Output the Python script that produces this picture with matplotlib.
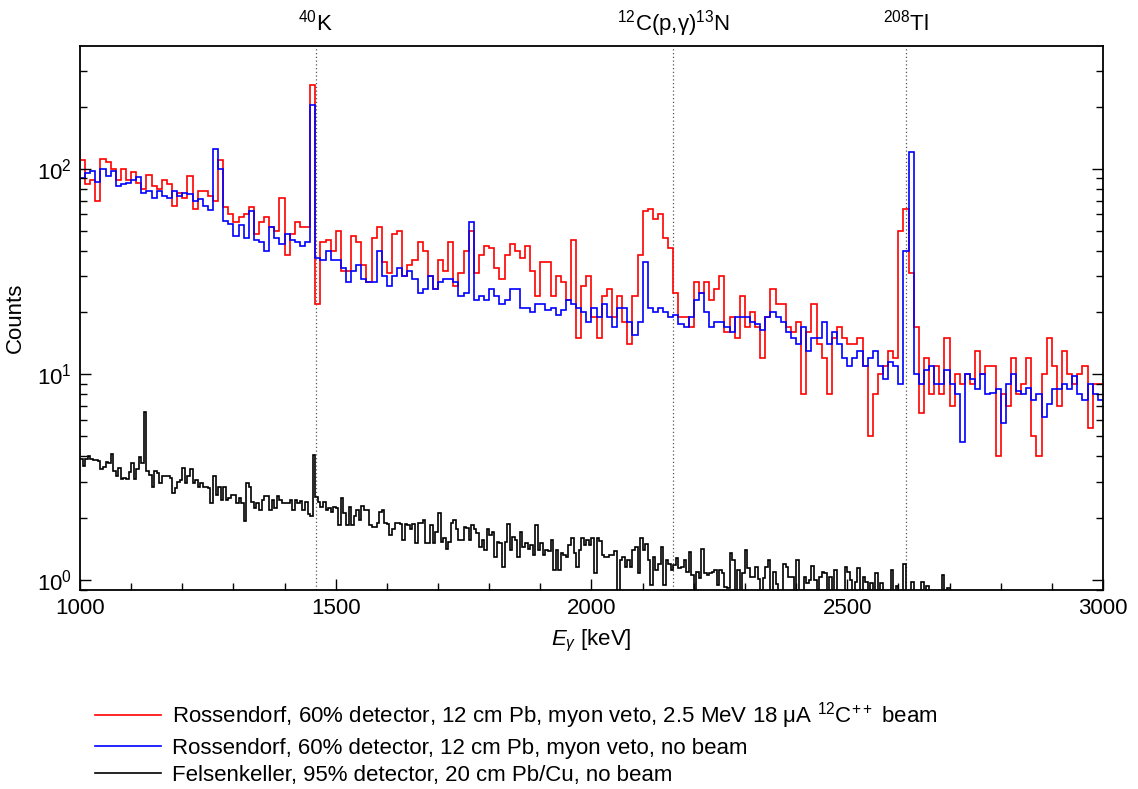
import numpy as np
import matplotlib
matplotlib.use("Agg")
import matplotlib.pyplot as plt
from matplotlib.lines import Line2D
from matplotlib.ticker import MultipleLocator, LogLocator, NullFormatter

plt.rcParams['font.family'] = ['Liberation Sans', 'DejaVu Sans']
plt.rcParams['mathtext.fontset'] = 'custom'
plt.rcParams['mathtext.rm'] = 'Liberation Sans'
plt.rcParams['mathtext.it'] = 'Liberation Sans:italic'
plt.rcParams['mathtext.bf'] = 'Liberation Sans:bold'

FS = 16

# Rossendorf spectra, 10 keV bins from 1000 to 3000 keV
rossendorf_beam = (
    [110, 84, 88, 70, 112, 108, 100, 88, 100, 88] +
    [96, 85, 80, 93, 82, 80, 88, 84, 66, 76] +
    [72, 92, 64, 78, 78, 74, 70, 110, 65, 60] +
    [55, 58, 60, 65, 48, 55, 58, 52, 50, 72] +
    [38, 48, 55, 52, 52, 255, 22, 44, 45, 40] +
    [50, 32, 32, 47, 44, 34, 28, 46, 52, 35] +
    [31, 48, 50, 30, 34, 36, 44, 40, 30, 26] +
    [36, 32, 44, 27, 31, 40, 50, 31, 38, 42] +
    [41, 33, 29, 38, 43, 40, 37, 42, 32, 24] +
    [35, 35, 24, 30, 28, 23, 45, 15, 27, 30] +
    [19, 15, 24, 26, 19, 24, 18, 14, 24, 38] +
    [62, 64, 57, 60, 46, 41, 25, 19, 19, 17] +
    [28, 25, 28, 23, 26, 30, 16, 19, 15, 24] +
    [17, 20, 17, 12, 19, 26, 22, 22, 17, 16] +
    [18, 8, 16, 22, 14, 12, 8, 15, 17, 15] +
    [14, 14, 15, 11, 5, 8, 10, 11, 13, 12] +
    [50, 64, 31, 17, 6.5, 12, 8, 11, 8, 15] +
    [7, 10, 9, 10, 9, 13, 10, 11, 11, 4] +
    [8, 7, 12, 8, 9, 12, 5, 4, 10, 15] +
    [11, 7, 13, 10, 9, 10, 11, 5.5, 9, 9]
)

rossendorf_nobeam = (
    [90, 95, 98, 86, 100, 92, 98, 82, 84, 85] +
    [88, 91, 76, 78, 72, 78, 74, 72, 78, 74] +
    [76, 75, 70, 71, 66, 63, 125, 100, 56, 54] +
    [47, 53, 46, 62, 45, 44, 40, 52, 46, 43] +
    [48, 45, 44, 42, 44, 205, 37, 36, 40, 36] +
    [36, 33, 28, 32, 34, 29, 28, 28, 40, 30] +
    [27, 30, 33, 30, 32, 29, 25, 26, 30, 26] +
    [28, 29, 29, 28, 24, 25, 55, 23, 24, 23] +
    [26, 24, 22, 23, 26, 26, 21, 21, 20, 22] +
    [22, 20.5, 21, 19.5, 20.5, 23, 22, 21, 20, 18] +
    [21, 19, 22, 19, 17, 21, 21, 18, 15.5, 18] +
    [35, 21, 20, 21, 20, 19, 19.5, 17.5, 17, 19] +
    [23, 25, 20, 17, 18, 18, 17, 16, 19, 19] +
    [19, 18, 17.5, 16.5, 19, 20, 19, 18, 16, 15] +
    [14, 17, 13, 15, 15, 18, 14, 16, 14, 12] +
    [11, 12, 13, 11, 12, 13, 11, 9.5, 11.5, 11] +
    [9, 40, 120, 10, 9, 10.5, 11, 9, 9, 10.5] +
    [9, 8, 4.7, 10, 9.5, 8.5, 10, 8, 8.1, 8.5] +
    [5.8, 9, 10, 8.3, 8, 8.6, 7.5, 8, 6.2, 7.2] +
    [8.5, 8.5, 9, 8.5, 9.8, 8, 7.5, 9, 8, 7.5]
)

# Felsenkeller spectrum, 5 keV bins from 1000 to 2700 keV
felsenkeller = (
    [3.9, 3.6, 3.9, 4.0, 3.9, 3.85, 3.84, 3.8, 3.45, 3.55, 3.75, 3.7, 4.1, 3.4, 3.2, 3.5, 3.1, 3.15, 3.1, 3.35] +
    [3.7, 3.1, 3.45, 3.95, 3.7, 6.6, 3.4, 3.25, 2.85, 3.4, 3.3, 2.95, 3.2, 3.2, 3.2, 3.15, 2.64, 2.8, 3.0, 3.05] +
    [3.5, 2.95, 3.2, 3.45, 2.95, 3.05, 2.85, 2.95, 2.85, 2.85, 2.8, 2.36, 3.2, 2.6, 2.85, 2.45, 2.85, 2.45, 2.5, 2.6] +
    [2.6, 2.36, 2.5, 2.36, 1.93, 2.95, 2.85, 2.4, 2.25, 2.36, 2.2, 2.45, 2.55, 2.55, 2.2, 2.45, 2.25, 2.55, 2.45, 2.36] +
    [2.36, 2.36, 2.45, 2.2, 2.45, 2.36, 2.42, 2.2, 2.4, 2.1, 2.05, 4.05, 2.54, 2.4, 2.27, 2.4, 2.2, 2.25, 2.15, 2.27] +
    [2.25, 1.85, 2.5, 2.11, 1.85, 2.27, 1.85, 2.05, 2.2, 1.95, 2.3, 2.19, 2.2, 1.85, 1.82, 1.82, 1.9, 2.15, 2.2, 1.9] +
    [1.88, 1.65, 1.78, 1.9, 1.9, 1.88, 1.57, 1.88, 1.86, 1.78, 1.88, 1.51, 1.9, 1.9, 1.96, 1.51, 1.51, 1.85, 1.51, 1.72] +
    [2.11, 1.53, 1.6, 1.42, 1.53, 1.9, 1.95, 1.78, 1.57, 1.57, 1.82, 1.8, 1.57, 1.86, 1.78, 1.69, 1.45, 1.57, 1.4, 1.78] +
    [1.65, 1.72, 1.3, 1.53, 1.51, 1.16, 1.53, 1.88, 1.4, 1.62, 1.57, 1.3, 1.72, 1.45, 1.51, 1.42, 1.48, 1.32, 1.86, 1.4] +
    [1.51, 1.32, 1.4, 1.38, 1.57, 1.12, 1.4, 1.12, 1.35, 1.32, 1.3, 1.48, 1.6, 1.35, 1.16, 1.4, 1.6, 1.48, 1.57, 1.48] +
    [1.6, 1.08, 1.6, 1.55, 1.33, 1.3, 1.3, 1.32, 1.33, 1.38, 0, 1.25, 1.3, 1.16, 1.25, 1.16, 1.4, 1.45, 1.08, 1.6] +
    [1.4, 1.5, 1.25, 0.95, 1.3, 1.12, 1.2, 1.45, 0.95, 1.25, 1.2, 1.12, 1.18, 1.28, 1.14, 1.16, 1.25, 1.1, 1.37, 1.06] +
    [0, 1.1, 1.02, 1.42, 1.08, 1.06, 1.08, 1.1, 1.12, 0.95, 1.12, 1.08, 0.93, 0.92, 1.35, 1.25, 0, 1.12, 0, 1.08] +
    [1.4, 1.14, 1.03, 1.03, 1.16, 1.01, 0, 1.02, 1.16, 1.25, 0, 1.1, 0.96, 0, 0, 1.2, 1.16, 1.04, 1.03, 0] +
    [1.25, 0, 0, 1.04, 0.97, 1.0, 1.17, 1.0, 0, 1.03, 1.1, 1.08, 0, 1.04, 0, 1.12, 0, 0, 0, 1.16] +
    [1.1, 1.0, 0, 0.98, 1.14, 0, 1.04, 0.98, 0, 0.97, 0, 1.08, 0, 0.97, 0, 0, 0, 1.12, 0, 0.94] +
    [0, 0, 1.2, 0, 0, 0.98, 0, 0, 0, 0.98, 0, 0.94, 0, 0, 0, 0, 0, 1.06, 0, 0.92]
)

# marked gamma lines (keV) and their labels
line_energies = [1461, 2160, 2614.5]
line_labels = [r'$^{\mathregular{40}}$K',
               r'$^{\mathregular{12}}$C(p,γ)$^{\mathregular{13}}$N',
               r'$^{\mathregular{208}}$Tl']

legend_labels = [
    r'Rossendorf, 60% detector, 12 cm Pb, myon veto, 2.5 MeV 18 μA $^{\mathregular{12}}$C$^{\mathregular{++}}$ beam',
    'Rossendorf, 60% detector, 12 cm Pb, myon veto, no beam',
    'Felsenkeller, 95% detector, 20 cm Pb/Cu, no beam',
]

edges_10 = np.arange(1000, 3001, 10)
edges_5 = np.arange(1000, 2701, 5)

fig = plt.figure(figsize=(11.38, 7.89), dpi=100)
ax = fig.add_axes([0.0703, 0.2522, 0.8989, 0.6895])
ax.set_yscale('log')

ax.stairs(rossendorf_beam, edges_10, baseline=None, color='#ff0000', lw=1.2)
ax.stairs(rossendorf_nobeam, edges_10, baseline=None, color='#0000ff', lw=1.2)
ax.stairs(felsenkeller, edges_5, baseline=None, color='black', lw=1.2)

# dotted marker lines with the isotope labels above the frame
for e, lab in zip(line_energies, line_labels):
    ax.axvline(e, color='#555555', ls=(0, (1, 2)), lw=0.9, zorder=0)
    ax.annotate(lab, xy=(e, 1.0), xycoords=('data', 'axes fraction'),
                xytext=(0, 11), textcoords='offset points',
                ha='center', va='baseline', fontsize=FS)

ax.set_xlim(1000, 3000)
ax.set_ylim(0.895, 395)
ax.xaxis.set_major_locator(MultipleLocator(500))
ax.xaxis.set_minor_locator(MultipleLocator(100))
ax.yaxis.set_major_locator(LogLocator(base=10))
ax.yaxis.set_minor_locator(LogLocator(base=10, subs=np.arange(2, 10)))
ax.yaxis.set_minor_formatter(NullFormatter())

ax.tick_params(which='both', direction='in', top=False, right=True, labelsize=FS, width=1)
ax.tick_params(which='major', length=8)
ax.tick_params(which='minor', length=5)
ax.tick_params(axis='x', pad=6)
ax.tick_params(axis='y', pad=6)
for s in ax.spines.values():
    s.set_linewidth(1.3)

ax.set_xlabel(r'$E_{\gamma}$ [keV]', fontsize=FS, labelpad=6)
ax.set_ylabel('Counts', fontsize=FS, labelpad=8)

handles = [Line2D([], [], color='#ff0000', lw=1.2),
           Line2D([], [], color='#0000ff', lw=1.2),
           Line2D([], [], color='black', lw=1.2)]
fig.legend(handles, legend_labels, loc='upper left',
           bbox_to_anchor=(95 / 1138, 1 - 700 / 789), frameon=False,
           fontsize=FS, handlelength=2.95, handletextpad=0.5,
           labelspacing=0.3, borderaxespad=0, borderpad=0)

fig.savefig('out.png', dpi=100)
